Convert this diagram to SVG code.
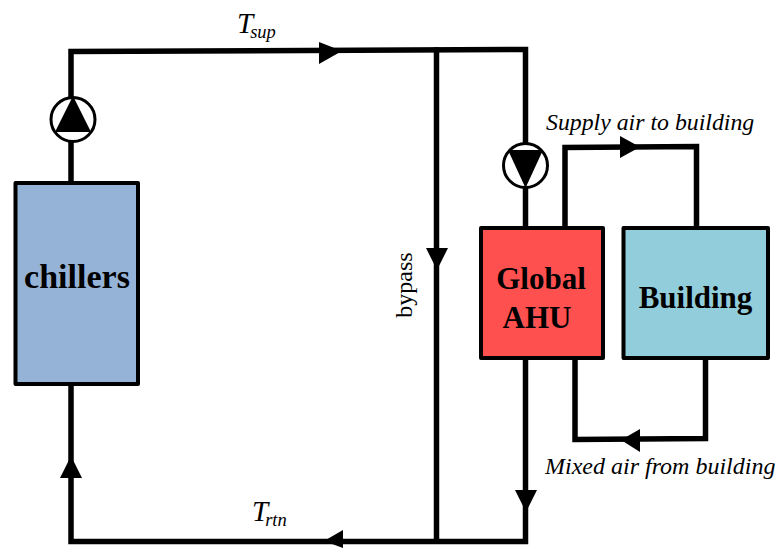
<svg xmlns="http://www.w3.org/2000/svg" width="778" height="548" viewBox="0 0 778 548">
<style>
.w{fill:none;stroke:#000;stroke-width:5.5;stroke-linejoin:miter;stroke-linecap:square}
.b{stroke:#000;stroke-width:4;stroke-linejoin:round}
.a{fill:#000;stroke:none}
.p{fill:#fff;stroke:#000;stroke-width:3}
text{font-family:"Liberation Serif","Times New Roman",serif;fill:#000}
.bl{font-weight:bold;text-anchor:middle}
.i{font-style:italic}
</style>
<rect width="778" height="548" fill="#fff"/>
<g id="connectors">
<path class="w" d="M71 182V51.500L525.500 49.500V227"/>
<path class="w" d="M436.500 50V541"/>
<path class="w" d="M525.500 358V541.500H71V385"/>
<path class="w" d="M565 227V147.500L696.500 146.500V227"/>
<path class="w" d="M575 358V439.500L705.500 438.500V358"/>
<polygon class="a" points="319,42 319,64 342,51"/>
<polygon class="a" points="426,248 448,248 437,270"/>
<polygon class="a" points="515,490 537,490 526,512"/>
<polygon class="a" points="60,478 82,478 71,456"/>
<polygon class="a" points="343,530 343,548 324,541"/>
<polygon class="a" points="620,136 620,158 640,147"/>
<polygon class="a" points="640,429 640,452 621,440"/>
</g>
<g id="pump-1"><circle class="p" cx="73" cy="119.500" r="22"/><polygon class="a" points="73,96 55,132 91,132"/></g>
<g id="pump-2"><circle class="p" cx="525.500" cy="165.500" r="22"/><polygon class="a" points="508,150 543,150 525.500,188"/></g>
<g id="chillers"><rect class="b" x="15.500" y="183" width="122.500" height="201" fill="#95b3d7"/><text class="bl" x="77" y="288" font-size="34">chillers</text></g>
<g id="global-ahu"><rect class="b" x="481" y="228" width="122" height="130" fill="#ff5050"/><text class="bl" x="541" y="289" font-size="31">Global</text><text class="bl" x="537" y="328" font-size="31">AHU</text></g>
<g id="building"><rect class="b" x="623.500" y="228" width="144.500" height="130" fill="#92cddc"/><text class="bl" x="695.500" y="308" font-size="31">Building</text></g>
<g id="labels">
<text class="i" x="237" y="33" font-size="29">T<tspan dx="-3" dy="5" font-size="18.500">sup</tspan></text>
<text class="i" x="252" y="521" font-size="29">T<tspan dx="-3" dy="5" font-size="18.500">rtn</tspan></text>
<text x="412" y="285" font-size="24" text-anchor="middle" transform="rotate(-90 412 285)">bypass</text>
<text class="i" x="546" y="130" font-size="23.800">Supply air to building</text>
<text class="i" x="545" y="474" font-size="24">Mixed air from building</text>
</g>
</svg>
